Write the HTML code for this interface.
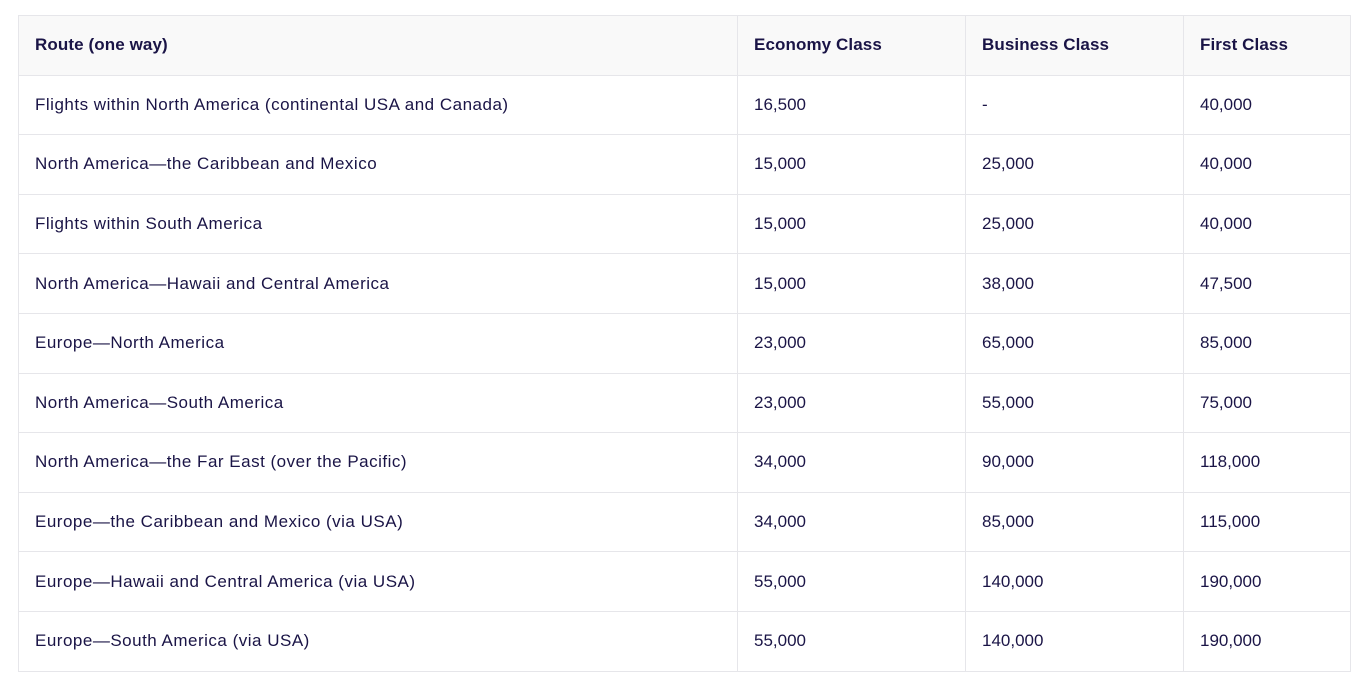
<!DOCTYPE html>
<html><head><style>
html,body{margin:0;padding:0;background:#fff;width:1368px;height:684px;overflow:hidden}
table{position:absolute;left:18px;top:15px;width:1332px;border-collapse:collapse;font-family:"Liberation Sans",sans-serif;font-size:17px;color:#1a1446;table-layout:fixed}
td,th{border:1px solid #e6e6ea;height:58.6px;padding:0 0 0 16px;text-align:left;font-weight:normal;white-space:nowrap;letter-spacing:0}
td:first-child{letter-spacing:0.5px}
th{background:#f9f9f9;font-weight:bold;height:58.6px;letter-spacing:0.1px}
</style></head><body>
<table>
<colgroup><col style="width:719px"><col style="width:228px"><col style="width:218px"><col style="width:167px"></colgroup>
<tr><th>Route (one way)</th><th>Economy Class</th><th>Business Class</th><th>First Class</th></tr>
<tr><td>Flights within North America (continental USA and Canada)</td><td>16,500</td><td>-</td><td>40,000</td></tr>
<tr><td>North America—the Caribbean and Mexico</td><td>15,000</td><td>25,000</td><td>40,000</td></tr>
<tr><td>Flights within South America</td><td>15,000</td><td>25,000</td><td>40,000</td></tr>
<tr><td>North America—Hawaii and Central America</td><td>15,000</td><td>38,000</td><td>47,500</td></tr>
<tr><td>Europe—North America</td><td>23,000</td><td>65,000</td><td>85,000</td></tr>
<tr><td>North America—South America</td><td>23,000</td><td>55,000</td><td>75,000</td></tr>
<tr><td>North America—the Far East (over the Pacific)</td><td>34,000</td><td>90,000</td><td>118,000</td></tr>
<tr><td>Europe—the Caribbean and Mexico (via USA)</td><td>34,000</td><td>85,000</td><td>115,000</td></tr>
<tr><td>Europe—Hawaii and Central America (via USA)</td><td>55,000</td><td>140,000</td><td>190,000</td></tr>
<tr><td>Europe—South America (via USA)</td><td>55,000</td><td>140,000</td><td>190,000</td></tr>
</table>
</body></html>
